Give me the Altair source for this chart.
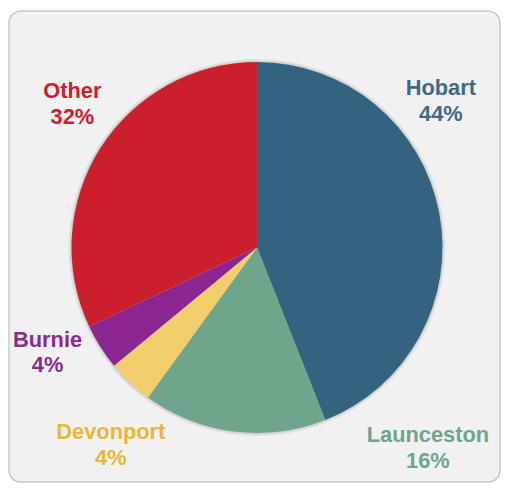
import altair as alt
import pandas as pd

# ---- data ----
categories = ["Hobart", "Launceston", "Devonport", "Burnie", "Other"]
shares = [44, 16, 4, 4, 32]

# ---- styles ----
slice_colors = ["#33637f", "#6fa58a", "#f1cd6b", "#8b2590", "#cc1f2e"]
label_colors = ["#3e6a87", "#6fa58a", "#e8b735", "#8b2a8f", "#c8202f"]
# label nudges (px) away from the slice-midpoint anchor
label_nudge = {
    "Hobart": (-16, -115),
    "Launceston": (198, -7),
    "Devonport": (-7, 44),
    "Burnie": (-38, -10),
    "Other": (-13, -41),
}

PW, PH = 497, 477      # panel size
W, H = 502, 479        # view size (pie centred in it)

df = pd.DataFrame({
    "cat": categories,
    "share": shares,
    "idx": list(range(len(categories))),
})

panel = alt.Chart(pd.DataFrame({"panel": [0]})).mark_rect(
    fill="#f1f1f1", stroke="#c9c9c9", strokeWidth=1.5, cornerRadius=12
).encode(
    x=alt.value(1), x2=alt.value(PW - 1), y=alt.value(1), y2=alt.value(PH - 1)
)

base = alt.Chart(df).encode(
    theta=alt.Theta("share:Q", stack=True),
    order=alt.Order("idx:Q"),
)

shadow = base.mark_arc(outerRadius=190, color="#000000", opacity=0.06)
shadow2 = base.mark_arc(outerRadius=188.5, color="#000000", opacity=0.07)

pie = base.mark_arc(outerRadius=187).encode(
    color=alt.Color(
        "cat:N",
        scale=alt.Scale(domain=categories, range=slice_colors),
        legend=None,
    )
)

layers = [panel, shadow, shadow2, pie]
for cat, col in zip(categories, label_colors):
    dx, dy = label_nudge[cat]
    lab = base.transform_calculate(
        label=f"datum.cat === '{cat}' ? [datum.cat, format(datum.share, 'd') + '%'] : ''"
    ).mark_text(
        radius=205,
        dx=dx,
        dy=dy,
        font="Liberation Sans",
        fontSize=22,
        fontWeight="bold",
        align="center",
        baseline="alphabetic",
        lineHeight=26,
        color=col,
    ).encode(text="label:N")
    layers.append(lab)

chart = alt.layer(*layers).properties(
    width=W,
    height=H,
    padding={"left": 0, "top": 0, "right": -5, "bottom": -2},
    autosize=alt.AutoSizeParams(type="none"),
    background="white",
).configure_view(stroke=None)

chart.save("out.html", embed_options={"renderer": "svg", "actions": False})
